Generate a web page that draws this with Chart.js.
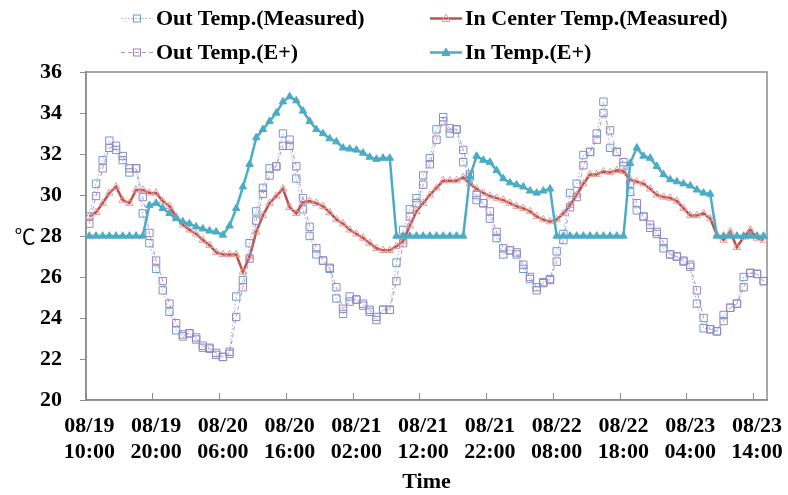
<!DOCTYPE html>
<html lang="en">
<head>
  <meta charset="UTF-8">
  <title>Out / In Temperature</title>
  <script src="https://cdn.jsdelivr.net/npm/chart.js"></script>
  <style>
    body {
      margin: 0;
      background: #fff;
      font-family: 'Liberation Serif', 'Times New Roman', serif;
    }
    .wrap {
      position: relative;
      width: 788px;
      height: 495px;
    }
    #legend {
      position: absolute;
      left: 121px;
      top: 6px;
      display: grid;
      grid-template-columns: 309px auto;
      row-gap: 10px;
    }
    .item {
      display: flex;
      align-items: center;
      height: 24px;
      font-weight: bold;
      font-size: 22px;
      color: #000;
      white-space: nowrap;
    }
    .item svg { margin-right: 3px; }
  </style>
</head>
<body>
  <div class="wrap">
    <canvas id="temps" width="788" height="495"></canvas>
    <div id="legend"></div>
  </div>

  <script>
    // tick labels, one every 10 hours
    const tickLabels = [
      ['08/19', '10:00'], ['08/19', '20:00'], ['08/20', '06:00'], ['08/20', '16:00'],
      ['08/21', '02:00'], ['08/21', '12:00'], ['08/21', '22:00'], ['08/22', '08:00'],
      ['08/22', '18:00'], ['08/23', '04:00'], ['08/23', '14:00']
    ];

    // hourly categories 08/19 10:00 -> 08/23 15:00
    const categories = [];
    for (let d = 19, h = 10; categories.length < 102; h++) {
      if (h === 24) { h = 0; d++; }
      categories.push('08/' + d + ' ' + String(h).padStart(2, '0') + ':00');
    }

    const outMeasured = [
      28.95, 30.55, 31.7, 32.65, 32.2, 31.7, 31.1, 31.3, 29.1, 27.65,
      26.4, 25.35, 24.3, 23.4, 23.1, 23.25, 22.95, 22.55, 22.55, 22.2,
      22.1, 22.35, 25.05, 25.85, 27.65, 29.2, 30.35, 31.3, 31.4, 33.0,
      32.4, 30.8, 29.3, 28.0, 27.1, 26.8, 26.4, 24.95, 24.2, 25.05,
      24.9, 24.6, 24.3, 23.9, 24.4, 24.4, 26.7, 28.3, 29.3, 29.85,
      30.95, 31.8, 33.2, 33.8, 33.0, 33.2, 31.6, 30.9, 29.75, 29.6,
      28.85, 27.9, 27.1, 27.3, 27.1, 26.4, 25.9, 25.35, 25.75, 25.85,
      27.25, 28.1, 30.1, 30.55, 31.95, 32.1, 33.0, 34.55, 32.3, 32.1,
      31.4, 30.15, 29.25, 28.95, 28.4, 28.1, 27.4, 27.1, 27.0, 26.75,
      26.5, 24.7, 23.5, 23.45, 23.35, 24.15, 24.5, 24.7, 26.0, 26.2,
      26.15, 25.8
    ];

    const inCenterMeasured = [
      28.95, 29.15, 29.6, 30.1, 30.4, 29.75, 29.6, 30.25, 30.25, 30.1,
      30.1, 29.7, 29.45, 28.95, 28.55, 28.3, 28.1, 27.8, 27.55, 27.2,
      27.1, 27.1, 27.1, 26.25, 27.0, 28.2, 29.0, 29.6, 29.95, 30.3,
      29.4, 29.1, 29.65, 29.7, 29.6, 29.45, 29.15, 28.8, 28.6, 28.3,
      28.1, 27.9, 27.65, 27.4, 27.3, 27.3, 27.5, 27.75, 28.5, 29.2,
      29.6, 30.0, 30.35, 30.7, 30.7, 30.7, 30.85, 30.55, 30.3, 30.1,
      29.95, 29.85, 29.75, 29.6, 29.45, 29.35, 29.2, 28.95, 28.8, 28.7,
      28.8, 29.1, 29.5, 30.0, 30.55, 31.0, 31.0, 31.15, 31.1, 31.2,
      31.15, 30.75, 30.65, 30.55, 30.3, 30.0, 29.9, 29.85, 29.7, 29.35,
      29.0, 29.0, 29.1, 28.85, 28.05, 27.8, 28.2, 27.45, 27.95, 28.3,
      27.9, 27.8
    ];

    const outEplus = [
      28.6, 29.95, 31.3, 32.3, 32.4, 31.9, 31.3, 31.3, 29.9, 28.15,
      26.8, 25.8, 24.7, 23.75, 23.2, 23.25, 23.05, 22.65, 22.5, 22.3,
      22.1, 22.25, 24.05, 25.5, 26.9, 28.75, 30.05, 30.95, 31.4, 32.4,
      32.7, 31.4, 29.85, 28.45, 27.4, 26.8, 26.45, 25.5, 24.45, 24.8,
      24.9, 24.7, 24.4, 24.05, 24.4, 24.4, 25.8, 27.65, 28.95, 29.6,
      30.5, 31.5, 32.7, 33.6, 33.25, 33.2, 32.2, 31.0, 30.0, 29.6,
      29.2, 28.2, 27.4, 27.3, 27.2, 26.6, 26.0, 25.5, 25.7, 25.9,
      26.75, 27.8, 29.4, 29.9, 31.45, 32.1, 32.7, 34.0, 33.15, 32.1,
      31.6, 30.55, 29.6, 28.95, 28.55, 28.2, 27.7, 27.1, 27.0, 26.8,
      26.6, 25.35, 24.0, 23.45, 23.35, 23.85, 24.5, 24.7, 25.5, 26.2,
      26.15, 25.8
    ];

    const inEplus = [
      28, 28, 28, 28, 28, 28, 28, 28, 28, 29.5,
      29.6, 29.35, 29.1, 28.85, 28.7, 28.6, 28.45, 28.35, 28.25, 28.2,
      28.05, 28.5, 29.35, 30.4, 31.5, 32.8, 33.2, 33.6, 34.0, 34.55,
      34.8, 34.6, 34.1, 33.6, 33.2, 33.0, 32.75, 32.6, 32.3, 32.25,
      32.2, 32.05, 31.85, 31.75, 31.8, 31.8, 28, 28, 28, 28,
      28, 28, 28, 28, 28, 28, 28, 30.9, 31.9, 31.7,
      31.6, 31.2, 30.8, 30.6, 30.5, 30.4, 30.2, 30.1, 30.2, 30.3,
      28, 28, 28, 28, 28, 28, 28, 28, 28, 28,
      28, 31.55, 32.3, 31.9, 31.8, 31.4, 31.0, 30.75, 30.65, 30.55,
      30.45, 30.25, 30.1, 30.05, 28, 28, 28, 28, 28, 28,
      28, 28
    ];

    const FONT = { family: "'Liberation Serif', 'Times New Roman', serif", size: 22, weight: 'bold' };
    const AXIS = '#8c8c8c';

    // plot frame and the unrotated unit label
    const frame = {
      id: 'frame',
      beforeDatasetsDraw(chart) {
        const { ctx, chartArea: a } = chart;
        ctx.save();
        ctx.strokeStyle = AXIS;
        ctx.lineWidth = 1.5;
        ctx.strokeRect(a.left, a.top, a.right - a.left, a.bottom - a.top);
        ctx.restore();
      },
      afterDraw(chart) {
        const { ctx, chartArea: a } = chart;
        ctx.save();
        ctx.fillStyle = '#000';
        ctx.font = "21px 'Noto Sans CJK SC', 'DejaVu Sans', sans-serif";
        ctx.textAlign = 'center';
        ctx.textBaseline = 'middle';
        ctx.fillText('℃', 25, (a.top + a.bottom) / 2);
        ctx.restore();
      }
    };

    const chart = new Chart(document.getElementById('temps'), {
      type: 'line',
      data: {
        labels: categories,
        datasets: [{
          label: 'Out Temp.(Measured)',
          data: outMeasured,
          borderColor: '#93B1DA',
          borderWidth: 1,
          borderDash: [1.5, 2],
          pointStyle: 'rect',
          pointRadius: 5.2,
          pointBorderColor: '#6F99D2',
          pointBackgroundColor: 'rgba(255,255,255,0)',
          pointBorderWidth: 1,
          order: 4
        }, {
          label: 'In Center Temp.(Measured)',
          data: inCenterMeasured,
          borderColor: '#C0504D',
          borderWidth: 2.5,
          pointStyle: 'triangle',
          pointRadius: 4.3,
          pointBorderColor: '#E39C9A',
          pointBackgroundColor: 'rgba(255,255,255,0)',
          pointBorderWidth: 1,
          order: 3
        }, {
          label: 'Out Temp.(E+)',
          data: outEplus,
          borderColor: '#A997CB',
          borderWidth: 1,
          borderDash: [4, 3],
          pointStyle: 'rect',
          pointRadius: 5.2,
          pointBorderColor: '#9A84C0',
          pointBackgroundColor: 'rgba(255,255,255,0)',
          pointBorderWidth: 1,
          order: 2
        }, {
          label: 'In Temp.(E+)',
          data: inEplus,
          borderColor: '#4BACC6',
          borderWidth: 2.5,
          pointStyle: 'triangle',
          pointRadius: 4.3,
          pointBorderColor: '#4BACC6',
          pointBackgroundColor: '#4BACC6',
          pointBorderWidth: 1,
          order: 1
        }]
      },
      options: {
        responsive: false,
        animation: false,
        layout: { padding: { top: 72, right: 21, left: 0, bottom: 0 } },
        elements: { line: { tension: 0 } },
        plugins: {
          legend: { display: false },
          tooltip: { enabled: false }
        },
        scales: {
          x: {
            offset: true,
            grid: {
              offset: true,
              drawOnChartArea: false,
              tickLength: -7,
              tickColor: ctx => ctx.index % 10 === 0 ? AXIS : 'rgba(0,0,0,0)'
            },
            border: { color: AXIS, width: 1.5 },
            ticks: {
              autoSkip: false,
              maxRotation: 0,
              padding: 20,
              color: '#000',
              font: FONT,
              callback: (v, i) => i % 10 === 0 ? tickLabels[i / 10] : ''
            },
            title: {
              display: true,
              text: 'Time',
              color: '#000',
              font: FONT,
              padding: { top: 0, bottom: -1 }
            },
            afterFit: s => { s.height = 95; }
          },
          y: {
            min: 20,
            max: 36,
            grid: { drawOnChartArea: false, tickLength: 6, tickColor: AXIS },
            border: { color: AXIS, width: 1.5 },
            ticks: { stepSize: 2, padding: 18, color: '#000', font: FONT },
            afterFit: s => { s.width = 86; }
          }
        }
      },
      plugins: [frame]
    });

    // legend in two columns, built from the datasets
    const legend = document.getElementById('legend');
    chart.data.datasets.forEach(ds => {
      const dash = ds.borderDash ? ds.borderDash.join(',') : 'none';
      const mark = ds.pointStyle === 'rect'
        ? `<rect x="12.5" y="4" width="7" height="7" fill="none" stroke="${ds.pointBorderColor}" stroke-width="1"/>`
        : `<polygon points="16,3 20,10.5 12,10.5" fill="${ds.pointBackgroundColor}" stroke="${ds.pointBorderColor}" stroke-width="1"/>`;
      const item = document.createElement('div');
      item.className = 'item';
      item.innerHTML =
        `<svg width="32" height="14"><line x1="0" y1="7.5" x2="32" y2="7.5" stroke="${ds.borderColor}" ` +
        `stroke-width="${ds.borderWidth}" stroke-dasharray="${dash}"/>${mark}</svg>` +
        `<span>${ds.label}</span>`;
      legend.appendChild(item);
    });
  </script>
</body>
</html>
